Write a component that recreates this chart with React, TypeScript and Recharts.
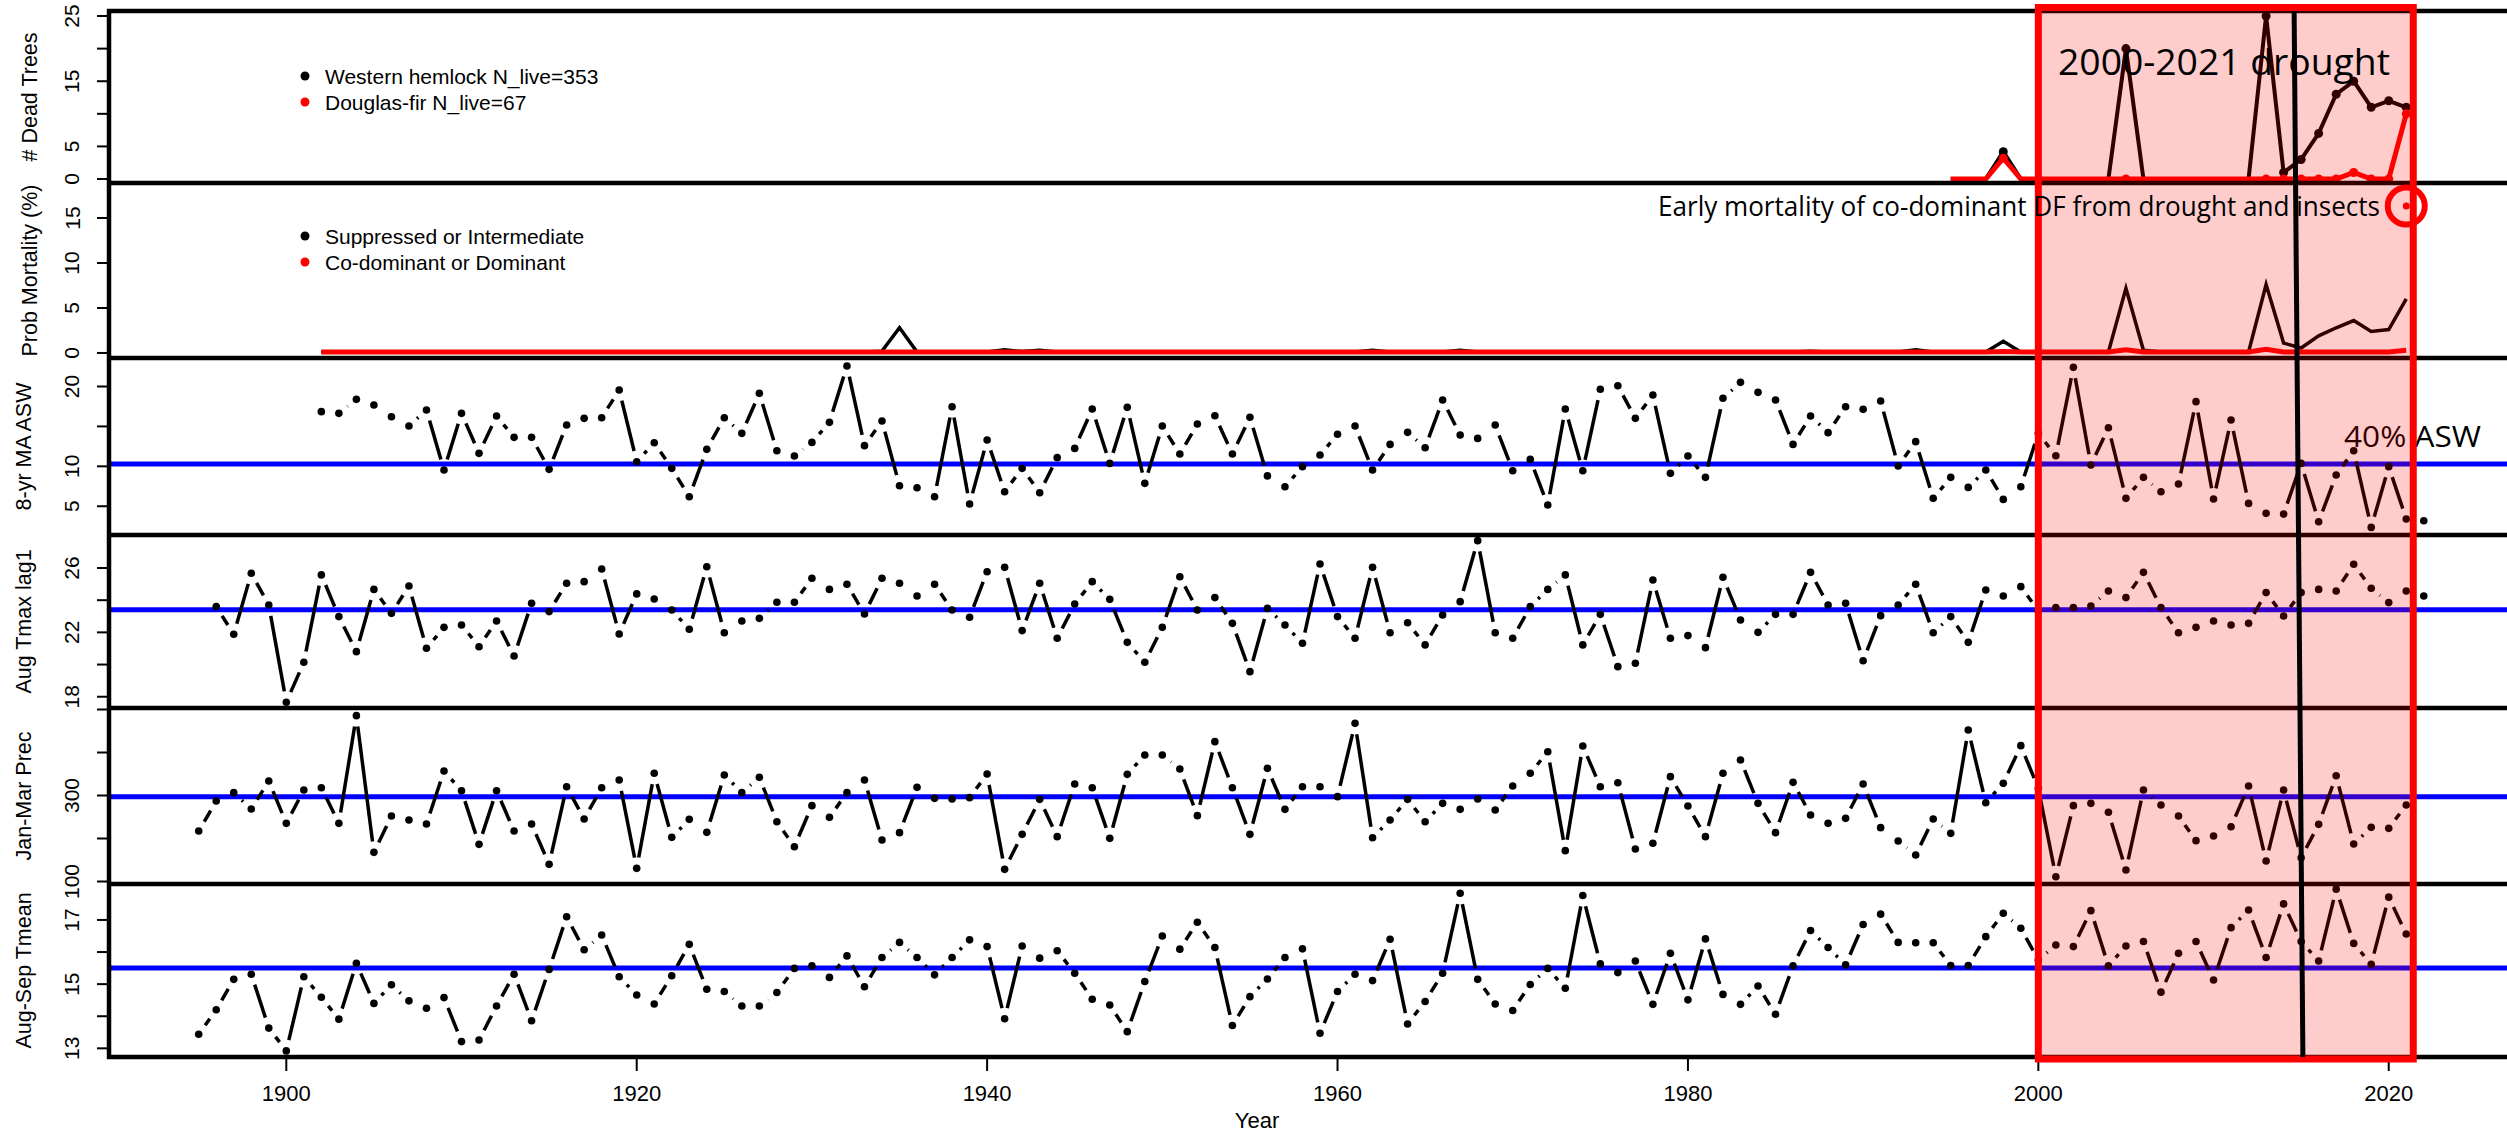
import { LineChart, Line, XAxis, YAxis, ReferenceLine } from "recharts";

// ---- data ----
const DEAD_START = 1995;
const hemlockDead = [0, 0, 0, 4.2, 0, 0, 0, 0, 0, 0, 20, 0, 0, 0, 0, 0, 0, 0, 25, 1, 3, 7, 13, 15, 11, 12, 11];
const firDead = [0, 0, 0, 3.2, 0, 0, 0, 0, 0, 0, 0, 0, 0, 0, 0, 0, 0, 0, 0, 0, 0, 0, 0, 1, 0, 0, 10];
const deadMarkYears = [1998, 2005, 2013, 2014, 2015, 2016, 2017, 2018, 2019, 2020, 2021];

const MORT_START = 1902;
const suppressedMort = [
  0.1, 0.1, 0.1, 0.1, 0.1, 0.1, 0.1, 0.1, 0.1, 0.1,
  0.1, 0.1, 0.1, 0.1, 0.1, 0.1, 0.1, 0.1, 0.1, 0.1,
  0.1, 0.1, 0.1, 0.1, 0.1, 0.1, 0.1, 0.1, 0.1, 0.1,
  0.1, 0.1, 0.2, 2.8, 0.1, 0.1, 0.1, 0.1, 0.1, 0.35,
  0.15, 0.3, 0.1, 0.1, 0.1, 0.1, 0.1, 0.1, 0.1, 0.1,
  0.1, 0.1, 0.1, 0.1, 0.1, 0.1, 0.1, 0.1, 0.1, 0.1,
  0.3, 0.1, 0.1, 0.1, 0.1, 0.3, 0.1, 0.1, 0.1, 0.1,
  0.1, 0.1, 0.1, 0.1, 0.1, 0.1, 0.1, 0.1, 0.1, 0.1,
  0.1, 0.1, 0.1, 0.1, 0.1, 0.2, 0.1, 0.1, 0.1, 0.1,
  0.1, 0.35, 0.1, 0.1, 0.1, 0.1, 1.3, 0.1, 0.1, 0.1,
  0.1, 0.1, 0.1, 7.2, 0.3, 0.1, 0.1, 0.1, 0.1, 0.1,
  0.1, 7.6, 1.1, 0.55, 1.9, 2.8, 3.6, 2.4, 2.6, 6.0,
];
const codominantMort = suppressedMort.map(() => 0.1);
codominantMort[1998 - MORT_START] = 0.15;
codominantMort[2005 - MORT_START] = 0.35;
codominantMort[2013 - MORT_START] = 0.4;
codominantMort[2021 - MORT_START] = 0.3;

const ASW_START = 1902;
const aswValues = [
  16.85, 16.64, 18.39, 17.68, 16.22, 15.05, 17.06, 9.54, 16.64, 11.63,
  16.3, 13.63, 13.63, 9.62, 15.18, 16.01, 16.09, 19.56, 10.58, 12.96,
  9.75, 6.19, 12.13, 16.09, 14.13, 19.14, 11.96, 11.29, 13.0, 15.51,
  22.57, 12.59, 15.68, 7.57, 7.32, 6.19, 17.47, 5.28, 13.3, 6.82,
  9.75, 6.7, 11.09, 12.25, 17.18, 10.37, 17.39, 7.87, 15.05, 11.54,
  15.3, 16.34, 11.54, 16.14, 8.8, 7.45, 9.96, 11.42, 14.01, 15.05,
  9.54, 12.75, 14.26, 12.33, 18.31, 13.92, 13.5, 15.18, 9.45, 10.87,
  5.15, 17.18, 9.45, 19.65, 20.1, 16.01, 18.93, 9.12, 11.29, 8.62,
  18.52, 20.52, 19.27, 18.31, 12.75, 16.3, 14.22, 17.47, 17.14, 18.18,
  10.04, 13.09, 5.99, 8.62, 7.36, 9.54, 5.86, 7.45, 14.13, 11.33,
  22.4, 10.16, 14.84, 5.99, 8.62, 6.82, 7.78, 18.1, 5.9, 15.8,
  5.36, 4.11, 4.02, 10.37, 3.06, 8.91, 11.96, 2.35, 9.96, 3.4,
  3.19,
];
const aswThreshold = 10.3;

const TMAX_START = 1896;
const tmaxValues = [
  23.6, 21.88, 25.67, 23.7, 17.66, 20.14, 25.57, 22.98, 20.8, 24.67,
  23.18, 24.88, 21.01, 22.31, 22.46, 21.11, 22.71, 20.53, 23.81, 23.29,
  25.05, 25.15, 25.94, 21.9, 24.39, 24.07, 23.39, 22.19, 26.08, 21.98,
  22.71, 22.87, 23.87, 23.87, 25.36, 24.67, 24.99, 23.14, 25.36, 25.05,
  24.26, 24.99, 23.39, 22.94, 25.77, 26.04, 22.11, 25.05, 21.63, 23.76,
  25.15, 24.05, 21.38, 20.14, 22.31, 25.46, 23.39, 24.16, 22.56, 19.56,
  23.49, 22.46, 21.32, 26.25, 22.98, 21.63, 26.04, 21.98, 22.6, 21.22,
  23.08, 23.91, 27.7, 21.98, 21.63, 23.6, 24.67, 25.57, 21.22, 23.12,
  19.87, 20.08, 25.25, 21.63, 21.8, 21.05, 25.42, 22.77, 22.0, 23.12,
  23.12, 25.73, 23.7, 23.81, 20.24, 23.04, 23.7, 24.99, 21.98, 22.98,
  21.38, 24.63, 24.26, 24.84, 23.35, 23.54, 23.54, 23.64, 24.57, 24.16,
  25.73, 23.54, 21.98, 22.31, 22.71, 22.46, 22.56, 24.47, 23.02, 24.47,
  24.67, 24.57, 26.23, 24.74, 23.85, 24.57, 24.26,
];
const tmaxMean = 23.4;

const PREC_START = 1895;
const precValues = [
  217.4, 287.2, 306.6, 268.6, 333.7, 235.3, 312.8, 318.2, 235.3, 485.7,
  167.8, 252.3, 243.0, 233.7, 357.0, 311.2, 186.4, 311.2, 217.4, 233.7,
  139.9, 320.5, 245.3, 318.2, 336.0, 130.6, 351.6, 202.7, 244.6, 214.3,
  347.7, 306.6, 342.2, 239.1, 181.0, 276.4, 249.2, 306.6, 336.0, 196.5,
  213.6, 319.0, 293.4, 291.9, 295.0, 350.0, 128.3, 209.7, 291.1, 204.3,
  326.7, 318.2, 200.4, 349.2, 394.2, 394.2, 361.6, 253.1, 425.2, 318.2,
  209.7, 363.2, 267.8, 320.5, 320.5, 297.3, 467.8, 201.9, 243.0, 291.1,
  239.1, 281.8, 267.8, 291.9, 266.3, 322.1, 351.6, 401.9, 171.7, 415.1,
  320.5, 329.8, 175.6, 188.8, 343.8, 275.6, 204.3, 351.6, 382.6, 281.8,
  213.6, 330.6, 254.7, 235.3, 246.9, 326.7, 225.2, 194.2, 161.6, 245.3,
  212.0, 452.3, 283.3, 328.3, 415.9, 316.7, 111.2, 276.4, 281.8, 260.9,
  126.7, 312.8, 277.9, 252.3, 195.0, 205.8, 227.5, 322.1, 147.7, 312.8,
  155.4, 232.9, 346.1, 187.2, 226.0, 223.6, 277.9,
];
const precMean = 297;

const TMEAN_START = 1895;
const tmeanValues = [
  13.44, 14.2, 15.15, 15.31, 13.63, 12.92, 15.23, 14.59, 13.91, 15.65,
  14.4, 14.98, 14.48, 14.25, 14.58, 13.21, 13.26, 14.32, 15.31, 13.86,
  15.46, 17.1, 16.07, 16.53, 15.23, 14.66, 14.38, 15.26, 16.24, 14.84,
  14.77, 14.32, 14.32, 14.74, 15.49, 15.57, 15.21, 15.88, 14.92, 15.83,
  16.3, 15.83, 15.29, 15.83, 16.38, 16.17, 13.92, 16.19, 15.81, 16.04,
  15.34, 14.53, 14.35, 13.52, 15.08, 16.5, 16.09, 16.93, 16.14, 13.71,
  14.61, 15.16, 15.83, 16.1, 13.47, 14.77, 15.31, 15.11, 16.4, 13.76,
  14.46, 15.34, 17.83, 15.15, 14.38, 14.18, 14.99, 15.49, 14.87, 17.76,
  15.63, 15.36, 15.72, 14.37, 15.96, 14.51, 16.41, 14.68, 14.37, 14.94,
  14.06, 15.57, 16.67, 16.14, 15.6, 16.86, 17.18, 16.3, 16.29, 16.29,
  15.58, 15.58, 16.48, 17.21, 16.74, 15.75, 16.22, 16.17, 17.29, 15.57,
  16.19, 16.33, 14.75, 15.96, 16.33, 15.13, 16.76, 17.31, 15.83, 17.5,
  16.33, 15.72, 17.96, 16.27, 15.62, 17.71, 16.56,
];
const tmeanMean = 15.5;

const xTicks = [1900, 1920, 1940, 1960, 1980, 2000, 2020];
const droughtYears = [2000, 2021.4];

const titles = ["# Dead Trees", "Prob Mortality (%)", "8-yr MA ASW", "Aug Tmax lag1", "Jan-Mar Prec", "Aug-Sep Tmean"];
const yDomains: [number, number][] = [
  [-0.61, 25.77],
  [-0.56, 18.89],
  [1.4, 23.57],
  [17.3, 28.05],
  [94.2, 503.5],
  [12.73, 18.12],
];
const yTicks = [
  [0, 5, 10, 15, 20, 25],
  [0, 5, 10, 15],
  [5, 10, 15, 20],
  [18, 20, 22, 24, 26],
  [100, 200, 300, 400, 500],
  [13, 14, 15, 16, 17],
];
const yLabels = [
  [0, 5, 15, 25],
  [0, 5, 10, 15],
  [5, 10, 20],
  [18, 22, 26],
  [100, 300],
  [13, 15, 17],
];

// ---- layout ----
const FIG_W = 2507;
const FIG_H = 1134;
const PLOT_LEFT = 109;
const PLOT_W = FIG_W - PLOT_LEFT;
const X0 = 1889.88;
const X1 = 2026.75;
const EDGES = [11, 183, 358, 535, 708, 884, 1057];
const R_FONT = "'Liberation Sans', Arial, sans-serif";
const NOTE_FONT = "'Open Sans', 'Noto Sans', sans-serif";
const LABEL_X = 72;
const GAP = 11;
const titleX = [30, 30, 24, 24, 24, 24];

const xPx = (yr: number) => PLOT_LEFT + ((yr - X0) / (X1 - X0)) * PLOT_W;
const yPx = (k: number, v: number) => {
  const [d0, d1] = yDomains[k];
  return EDGES[k] + ((d1 - v) / (d1 - d0)) * (EDGES[k + 1] - EDGES[k]);
};

const series = (start: number, values: number[]) => values.map((v, i) => ({ year: start + i, v }));
const deadData = hemlockDead.map((h, i) => ({ year: DEAD_START + i, h, f: firDead[i] }));
const mortData = suppressedMort.map((s, i) => ({ year: MORT_START + i, s, c: codominantMort[i] }));
const aswData = series(ASW_START, aswValues);
const tmaxData = series(TMAX_START, tmaxValues);
const precData = series(PREC_START, precValues);
const tmeanData = series(TMEAN_START, tmeanValues);

// tick labels are drawn in the overlay so they are not clipped at panel edges
const emptyTick = (props: any) => <g key={`t-${props.index}`} />;

// R type="b": points joined by segments that stop short of each point
function renderBDot(props: any) {
  const { cx, cy, index, points } = props;
  if (cx == null || cy == null) return <g key={`b-${index}`} />;
  const next = points ? points[index + 1] : null;
  let seg = null;
  if (next && next.x != null && next.y != null) {
    const dx = next.x - cx;
    const dy = next.y - cy;
    const len = Math.hypot(dx, dy);
    if (len > 2 * GAP) {
      const ux = dx / len;
      const uy = dy / len;
      seg = (
        <line
          x1={cx + ux * GAP}
          y1={cy + uy * GAP}
          x2={next.x - ux * GAP}
          y2={next.y - uy * GAP}
          stroke="#000"
          strokeWidth={3.5}
        />
      );
    }
  }
  return (
    <g key={`b-${index}`}>
      {seg}
      <circle cx={cx} cy={cy} r={3.8} fill="#000" />
    </g>
  );
}

function makeMarkDot(color: string) {
  return (props: any) => {
    const { cx, cy, index, payload } = props;
    if (cx == null || !deadMarkYears.includes(payload.year)) return <g key={`m-${index}`} />;
    return <circle key={`m-${index}`} cx={cx} cy={cy} r={4.5} fill={color} />;
  };
}

function hiddenX() {
  return <XAxis type="number" dataKey="year" domain={[X0, X1]} allowDataOverflow hide />;
}

function yAxis(k: number) {
  return (
    <YAxis
      type="number"
      domain={yDomains[k]}
      ticks={yTicks[k]}
      interval={0}
      allowDataOverflow
      width={PLOT_LEFT}
      axisLine={false}
      tickSize={12}
      tickLine={{ stroke: "#000", strokeWidth: 2 }}
      tick={emptyTick}
    />
  );
}

function panelStyle(k: number) {
  return { position: "absolute" as const, left: 0, top: EDGES[k] };
}

export default function App() {
  const h = (k: number) => EDGES[k + 1] - EDGES[k];
  const zero = { top: 0, right: 0, bottom: 0, left: 0 };
  return (
    <div style={{ position: "absolute", left: 0, top: 0, width: FIG_W, height: FIG_H, background: "#fff", overflow: "hidden" }}>
      <div style={panelStyle(0)}>
        <LineChart width={FIG_W} height={h(0)} data={deadData} margin={zero}>
          {hiddenX()}
          {yAxis(0)}
          <Line dataKey="h" stroke="#000" strokeWidth={4} dot={makeMarkDot("#000")} activeDot={false} isAnimationActive={false} />
          <Line dataKey="f" stroke="#ff0000" strokeWidth={5} dot={makeMarkDot("#ff0000")} activeDot={false} isAnimationActive={false} />
        </LineChart>
      </div>
      <div style={panelStyle(1)}>
        <LineChart width={FIG_W} height={h(1)} data={mortData} margin={zero}>
          {hiddenX()}
          {yAxis(1)}
          <Line dataKey="s" stroke="#000" strokeWidth={3.5} dot={false} activeDot={false} isAnimationActive={false} />
          <Line dataKey="c" stroke="#ff0000" strokeWidth={5} dot={false} activeDot={false} isAnimationActive={false} />
        </LineChart>
      </div>
      <div style={panelStyle(2)}>
        <LineChart width={FIG_W} height={h(2)} data={aswData} margin={zero}>
          {hiddenX()}
          {yAxis(2)}
          <ReferenceLine y={aswThreshold} stroke="#0000ff" strokeWidth={5} />
          <Line dataKey="v" stroke="none" dot={renderBDot} activeDot={false} isAnimationActive={false} />
        </LineChart>
      </div>
      <div style={panelStyle(3)}>
        <LineChart width={FIG_W} height={h(3)} data={tmaxData} margin={zero}>
          {hiddenX()}
          {yAxis(3)}
          <ReferenceLine y={tmaxMean} stroke="#0000ff" strokeWidth={5} />
          <Line dataKey="v" stroke="none" dot={renderBDot} activeDot={false} isAnimationActive={false} />
        </LineChart>
      </div>
      <div style={panelStyle(4)}>
        <LineChart width={FIG_W} height={h(4)} data={precData} margin={zero}>
          {hiddenX()}
          {yAxis(4)}
          <ReferenceLine y={precMean} stroke="#0000ff" strokeWidth={5} />
          <Line dataKey="v" stroke="none" dot={renderBDot} activeDot={false} isAnimationActive={false} />
        </LineChart>
      </div>
      <div style={panelStyle(5)}>
        <LineChart width={FIG_W} height={h(5) + 77} data={tmeanData} margin={zero}>
          <XAxis
            type="number"
            dataKey="year"
            domain={[X0, X1]}
            allowDataOverflow
            ticks={xTicks}
            interval={0}
            height={77}
            axisLine={false}
            tickSize={14}
            tickMargin={14}
            tickLine={{ stroke: "#000", strokeWidth: 2 }}
            tick={{ fontFamily: R_FONT, fontSize: 22, fill: "#000" }}
          />
          {yAxis(5)}
          <ReferenceLine y={tmeanMean} stroke="#0000ff" strokeWidth={5} />
          <Line dataKey="v" stroke="none" dot={renderBDot} activeDot={false} isAnimationActive={false} />
        </LineChart>
      </div>

      <svg width={FIG_W} height={FIG_H} style={{ position: "absolute", left: 0, top: 0 }}>
        {EDGES.map((y) => (
          <line key={`e-${y}`} x1={PLOT_LEFT - 2} x2={FIG_W} y1={y} y2={y} stroke="#000" strokeWidth={4.5} />
        ))}
        <line x1={PLOT_LEFT} x2={PLOT_LEFT} y1={EDGES[0] - 2} y2={EDGES[6] + 2} stroke="#000" strokeWidth={4.5} />

        {yLabels.map((labels, k) =>
          labels.map((v) => {
            const y = yPx(k, v);
            return (
              <text
                key={`yl-${k}-${v}`}
                x={LABEL_X}
                y={y}
                transform={`rotate(-90 ${LABEL_X} ${y})`}
                textAnchor="middle"
                dominantBaseline="central"
                fontFamily={R_FONT}
                fontSize={21}
                fill="#000"
              >
                {v}
              </text>
            );
          })
        )}

        {titles.map((t, k) => {
          const cy = (EDGES[k] + EDGES[k + 1]) / 2;
          const x = titleX[k];
          return (
            <text key={t} x={x} y={cy} transform={`rotate(-90 ${x} ${cy})`} textAnchor="middle" dominantBaseline="central" fontFamily={R_FONT} fontSize={21.5} fill="#000">
              {t}
            </text>
          );
        })}
        <text x={1257} y={1120} textAnchor="middle" dominantBaseline="central" fontFamily={R_FONT} fontSize={22} fill="#000">
          Year
        </text>

        {[
          { y: 76, c: "#000", t: "Western hemlock N_live=353" },
          { y: 102, c: "#ff0000", t: "Douglas-fir N_live=67" },
          { y: 236, c: "#000", t: "Suppressed or Intermediate" },
          { y: 262, c: "#ff0000", t: "Co-dominant or Dominant" },
        ].map((l) => (
          <g key={l.t}>
            <circle cx={305} cy={l.y} r={4.5} fill={l.c} />
            <text x={325} y={l.y} dominantBaseline="central" fontFamily={R_FONT} fontSize={21} fill="#000">
              {l.t}
            </text>
          </g>
        ))}

        <text x={2344} y={447} fontFamily={NOTE_FONT} fontSize={30} textLength={137} lengthAdjust="spacingAndGlyphs" fill="#000">
          40% ASW
        </text>

        <rect
          x={xPx(droughtYears[0])}
          y={7.5}
          width={xPx(droughtYears[1]) - xPx(droughtYears[0])}
          height={1051.5}
          fill="rgba(255,0,0,0.2)"
          stroke="#ff0000"
          strokeWidth={7}
        />
        <line x1={xPx(2014.6)} y1={EDGES[0]} x2={xPx(2015.1)} y2={EDGES[6]} stroke="#000" strokeWidth={5} />

        <text x={2058} y={75} fontFamily={NOTE_FONT} fontSize={36} textLength={332} lengthAdjust="spacingAndGlyphs" fill="#000">
          2000-2021 drought
        </text>
        <text x={1658} y={216} fontFamily={NOTE_FONT} fontSize={27} textLength={722} lengthAdjust="spacingAndGlyphs" fill="#000">
          Early mortality of co-dominant DF from drought and insects
        </text>
        <circle cx={xPx(2021)} cy={206} r={18.5} fill="none" stroke="#ff0000" strokeWidth={6} />
        <circle cx={xPx(2021)} cy={206} r={3.5} fill="#ff0000" />
      </svg>
    </div>
  );
}
